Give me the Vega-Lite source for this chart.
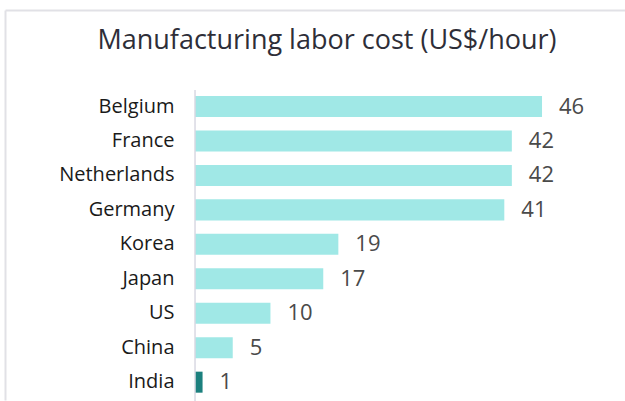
{
  "$schema": "https://vega.github.io/schema/vega-lite/v6.json",
  "autosize": {"type": "none"},
  "width": 620,
  "height": 390,
  "padding": {"left": 5, "top": 10, "right": 0, "bottom": 1},
  "background": "white",
  "config": {"view": {"stroke": null}},
  "title": {
    "text": "Manufacturing labor cost (US$/hour)",
    "font": "Open Sans",
    "fontSize": 27,
    "fontWeight": "normal",
    "color": "#2e2e38",
    "anchor": "middle",
    "baseline": "alphabetic",
    "offset": -66,
    "dx": 12
  },
  "data": {
    "values": [
      {"country": "Belgium", "cost": 46},
      {"country": "France", "cost": 42},
      {"country": "Netherlands", "cost": 42},
      {"country": "Germany", "cost": 41},
      {"country": "Korea", "cost": 19},
      {"country": "Japan", "cost": 17},
      {"country": "US", "cost": 10},
      {"country": "China", "cost": 5},
      {"country": "India", "cost": 1}
    ]
  },
  "encoding": {
    "y": {
      "field": "country",
      "type": "nominal",
      "scale": {
        "domain": ["", " ", "Belgium", "France", "Netherlands", "Germany", "Korea", "Japan", "US", "China", "India"],
        "paddingInner": 0.39,
        "paddingOuter": 0.354,
        "align": 0.7
      },
      "axis": {
        "orient": "left",
        "title": null,
        "ticks": false,
        "tickSize": 0,
        "domain": true,
        "domainColor": "#e1e1e6",
        "domainWidth": 2,
        "labelPadding": -169,
        "labelFont": "Open Sans",
        "labelFontSize": 20,
        "labelColor": "#1a1a1a"
      }
    }
  },
  "layer": [
    {
      "mark": {"type": "bar"},
      "encoding": {
        "x": {
          "field": "cost",
          "type": "quantitative",
          "scale": {"domain": [-25.19, 57.0], "zero": false, "nice": false},
          "axis": {
            "orient": "top",
            "title": null,
            "labels": false,
            "ticks": false,
            "grid": false,
            "domain": true,
            "domainColor": "#e1e1e6",
            "domainWidth": 2
          }
        },
        "x2": {"datum": 0},
        "color": {
          "condition": {"test": "datum.country === 'India'", "value": "#1c807e"},
          "value": "#a0e8e6"
        }
      }
    },
    {
      "transform": [{"filter": "datum.country === 'India'"}],
      "mark": {"type": "rule", "color": "#d9d9e3", "strokeWidth": 1.5},
      "encoding": {
        "x": {"datum": 0, "type": "quantitative"},
        "y": {"datum": "Belgium", "type": "nominal", "bandPosition": -0.28},
        "y2": {"datum": "India", "bandPosition": 1.4}
      }
    },
    {
      "mark": {
        "type": "text",
        "align": "left",
        "baseline": "middle",
        "dx": 17,
        "font": "Open Sans",
        "fontSize": 22,
        "color": "#4a4a4a"
      },
      "encoding": {
        "x": {"field": "cost", "type": "quantitative"},
        "text": {"field": "cost", "type": "quantitative"}
      }
    }
  ]
}
